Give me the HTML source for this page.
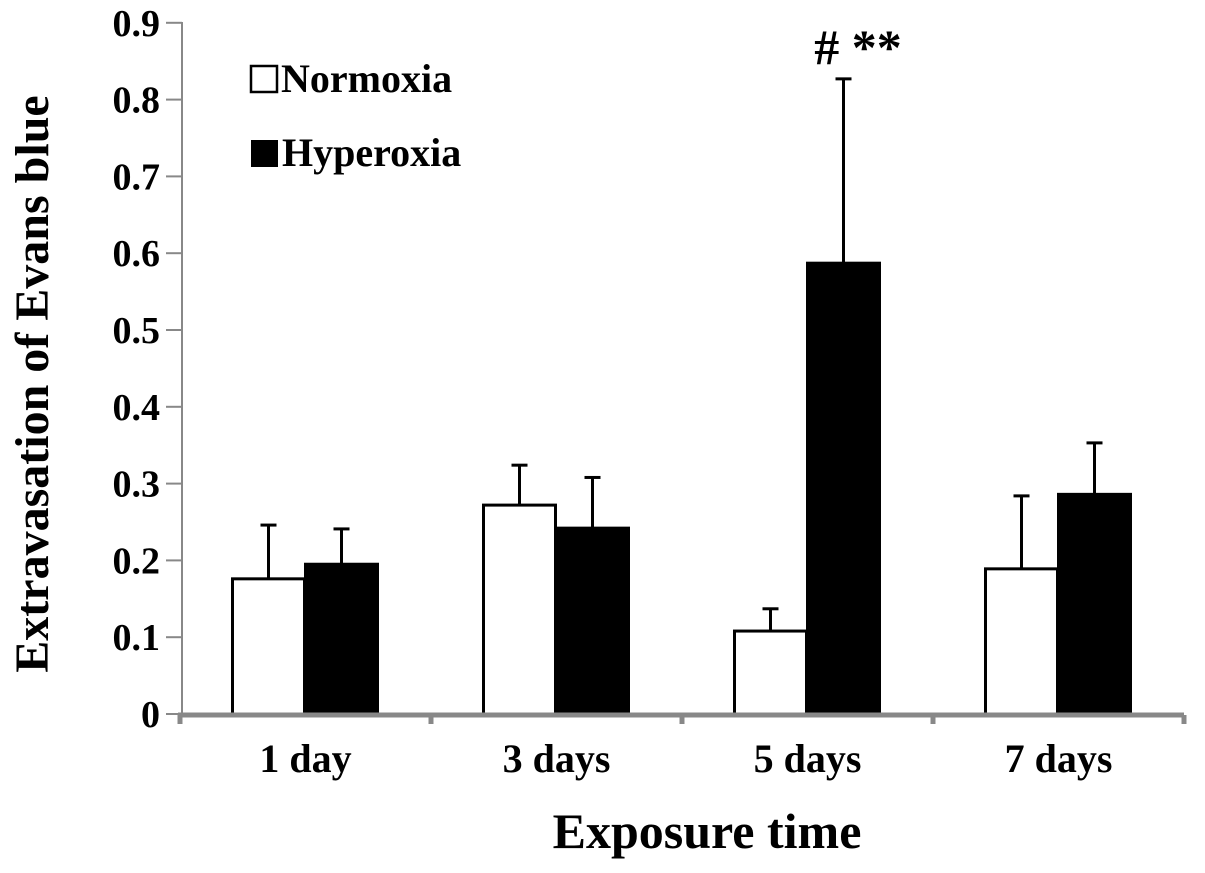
<!DOCTYPE html>
<html><head><meta charset="utf-8"><style>
body{margin:0;background:#fff;}
svg text{font-family:"Liberation Serif",serif;font-weight:bold;fill:#000;}
</style></head><body>
<svg id="chart" width="1205" height="868" viewBox="0 0 1205 868">
<g id="marks"></g>
</svg>
<script>
const categories=["1 day","3 days","5 days","7 days"];
const normoxia=[0.176,0.272,0.108,0.189];
const normoxiaErr=[0.070,0.052,0.029,0.095];
const hyperoxia=[0.195,0.242,0.587,0.286];
const hyperoxiaErr=[0.046,0.066,0.240,0.067];
const yTicks=[0,0.1,0.2,0.3,0.4,0.5,0.6,0.7,0.8,0.9];
const yTickLabels=["0","0.1","0.2","0.3","0.4","0.5","0.6","0.7","0.8","0.9"];

const NS="http://www.w3.org/2000/svg";
const svg=document.getElementById('marks');
const y0=714, pxPer=768;
function yS(v){return y0-v*pxPer;}
const xLeft=180, groupW=251;
function xC(i){return xLeft+groupW*(i+0.5);}
function mk(tag,attrs,parent){const e=document.createElementNS(NS,tag);for(const k in attrs)e.setAttribute(k,attrs[k]);(parent||svg).appendChild(e);return e;}

let ya=mk('line',{x1:182,y1:22,x2:182,y2:716,stroke:'#888','stroke-width':2});


yTicks.forEach((t,i)=>{
  const y=yS(t);
  let tk=mk('line',{x1:166,y1:y,x2:182,y2:y,stroke:'#888','stroke-width':2});
  
  
  let lb=mk('text',{x:160,y:y+13,'text-anchor':'end','font-size':38});
  lb.textContent=yTickLabels[i];
  
  
});
categories.forEach((c,i)=>{
  const cx=xC(i);
  const bw=72;
  const nx=cx-bw-1, hx=cx;
  [[nx,normoxia[i],normoxiaErr[i]],[hx,hyperoxia[i],hyperoxiaErr[i]]].forEach(([x,v,e])=>{
    const mx=x+bw/2;
    let el=mk('line',{x1:mx,y1:yS(v),x2:mx,y2:yS(v+e),stroke:'#000','stroke-width':3});
    
    
    let cap=mk('line',{x1:mx-8,y1:yS(v+e),x2:mx+8,y2:yS(v+e),stroke:'#000','stroke-width':3});
    
    
  });
  let nb=mk('rect',{x:nx,y:yS(normoxia[i]),width:bw,height:normoxia[i]*pxPer,fill:'#fff',stroke:'#000','stroke-width':3});
  
  
  let hb=mk('rect',{x:hx,y:yS(hyperoxia[i]),width:bw,height:hyperoxia[i]*pxPer,fill:'#000',stroke:'#000','stroke-width':3});
  
  
  let lb=mk('text',{x:cx,y:772,'text-anchor':'middle','font-size':40});
  lb.textContent=c;
  
  
});
let xa=mk('line',{x1:178,y1:715,x2:1184,y2:715,stroke:'#888','stroke-width':5});


for(let i=0;i<=categories.length;i++){
  let tk=mk('line',{x1:xLeft+groupW*i,y1:715,x2:xLeft+groupW*i,y2:724,stroke:'#888','stroke-width':5});
  
  
}
let an=mk('text',{x:858,y:64,'text-anchor':'middle','font-size':50});
an.textContent='# **';


let xt=mk('text',{x:707,y:848,'text-anchor':'middle','font-size':50});
xt.textContent='Exposure time';


let yt=mk('text',{x:0,y:0,'text-anchor':'middle','font-size':48,transform:'translate(48,384) rotate(-90)'});
yt.textContent='Extravasation of Evans blue';


let l1=mk('rect',{x:251,y:66,width:26,height:26,fill:'#fff',stroke:'#000','stroke-width':2.5});


let t1=mk('text',{x:281,y:92,'font-size':40});
t1.textContent='Normoxia';


let l2=mk('rect',{x:251,y:140,width:27,height:27,fill:'#000'});


let t2=mk('text',{x:282,y:166,'font-size':40});
t2.textContent='Hyperoxia';


</script>
</body></html>
